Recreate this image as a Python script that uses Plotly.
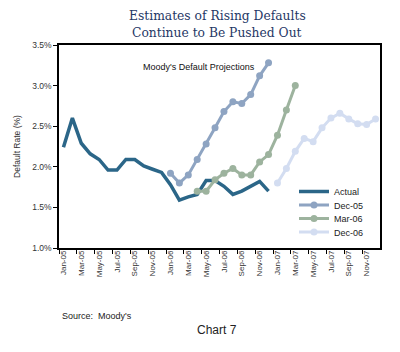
import plotly.graph_objects as go

months = ["Jan-05","Feb-05","Mar-05","Apr-05","May-05","Jun-05","Jul-05","Aug-05","Sep-05","Oct-05","Nov-05","Dec-05",
          "Jan-06","Feb-06","Mar-06","Apr-06","May-06","Jun-06","Jul-06","Aug-06","Sep-06","Oct-06","Nov-06","Dec-06",
          "Jan-07","Feb-07","Mar-07","Apr-07","May-07","Jun-07","Jul-07","Aug-07","Sep-07","Oct-07","Nov-07","Dec-07"]

actual = [2.24, 2.60, 2.29, 2.16, 2.09, 1.96, 1.96, 2.09, 2.09, 2.01, 1.97, 1.93,
          1.78, 1.59, 1.63, 1.66, 1.83, 1.83, 1.76, 1.66, 1.70, 1.76, 1.82, 1.70]
proj_dec05 = [1.92, 1.80, 1.90, 2.09, 2.28, 2.48, 2.68, 2.80, 2.78, 2.89, 3.12, 3.28]
proj_mar06 = [1.70, 1.70, 1.84, 1.92, 1.98, 1.90, 1.90, 2.06, 2.15, 2.39, 2.70, 3.00]
proj_dec06 = [1.80, 1.98, 2.19, 2.35, 2.31, 2.48, 2.60, 2.66, 2.59, 2.53, 2.52, 2.59]

start_actual = "Jan-05"
start_dec05 = "Jan-06"
start_mar06 = "Apr-06"
start_dec06 = "Jan-07"

y_ticks = [1.0, 1.5, 2.0, 2.5, 3.0, 3.5]

W, H = 400, 352
ML, MR, MT, MB = 59, 20, 45, 104
PW = W - ML - MR
PH = H - MT - MB

def px_x(x):
    return (x - ML) / PW

def px_y(y):
    return (H - MB - y) / PH

def xs(start, vals):
    i0 = months.index(start)
    return list(range(i0, i0 + len(vals)))

fig = go.Figure()
fig.add_trace(go.Scatter(x=xs(start_actual, actual), y=actual, name="Actual", mode="lines",
                         line=dict(color="#2b6688", width=3.5), legend="legend"))
fig.add_trace(go.Scatter(x=xs(start_dec05, proj_dec05), y=proj_dec05, name="Dec-05", mode="lines+markers",
                         line=dict(color="#8ea4c2", width=3), marker=dict(size=7, color="#8ea4c2"),
                         legend="legend2"))
fig.add_trace(go.Scatter(x=xs(start_mar06, proj_mar06), y=proj_mar06, name="Mar-06", mode="lines+markers",
                         line=dict(color="#9db39e", width=3), marker=dict(size=7, color="#9db39e"),
                         legend="legend3"))
fig.add_trace(go.Scatter(x=xs(start_dec06, proj_dec06), y=proj_dec06, name="Dec-06", mode="lines+markers",
                         line=dict(color="#d3ddf1", width=3), marker=dict(size=7, color="#d3ddf1"),
                         legend="legend4"))

# invisible trace to activate the label axis
fig.add_trace(go.Scatter(x=[0], y=[1.0], xaxis="x2", mode="markers", marker=dict(opacity=0),
                         showlegend=False, hoverinfo="skip"))

legend_common = dict(xanchor="left", yanchor="middle", bgcolor="rgba(0,0,0,0)",
                     font=dict(size=9, color="#222222"), itemwidth=30, borderwidth=0)
leg_x = px_x(294)

fig.update_layout(
    width=W, height=H,
    margin=dict(l=ML, r=MR, t=MT, b=MB),
    paper_bgcolor="white", plot_bgcolor="white",
    font=dict(family="Liberation Sans, Arial", size=9, color="#333333"),
    xaxis=dict(range=[-0.5, 35.5], tickmode="array",
               tickvals=[i - 0.5 for i in range(0, 36, 2)],
               ticktext=["" for _ in range(0, 36, 2)],
               ticks="outside", ticklen=4, tickcolor="black",
               showline=True, linecolor="black", linewidth=1.5, mirror=True,
               showgrid=False, zeroline=False),
    xaxis2=dict(overlaying="x", matches="x", anchor="y", side="bottom",
                tickmode="array", tickvals=list(range(0, 36, 2)),
                ticktext=[months[i] for i in range(0, 36, 2)],
                tickangle=-90, ticks="", showline=False, showgrid=False, zeroline=False,
                tickfont=dict(size=8, color="#333333")),
    yaxis=dict(range=[1.0, 3.5], tickmode="array", tickvals=y_ticks,
               ticktext=["%.1f%%" % v for v in y_ticks],
               ticks="outside", ticklen=4, tickcolor="black",
               showline=True, linecolor="black", linewidth=1.5, mirror=True,
               showgrid=False, zeroline=False,
               tickfont=dict(size=8.5, color="#333333"),
               title=dict(text="Default Rate (%)", font=dict(size=8.5, color="#333333"), standoff=10)),
    legend=dict(x=leg_x, y=px_y(191.5), **legend_common),
    legend2=dict(x=leg_x, y=px_y(205), **legend_common),
    legend3=dict(x=leg_x, y=px_y(218.5), **legend_common),
    legend4=dict(x=leg_x, y=px_y(232), **legend_common),
    showlegend=True,
)

title_font = dict(family="DejaVu Serif", size=12.3, color="#1f3866")
fig.add_annotation(text="Estimates of Rising Defaults", x=px_x(217), y=px_y(16), xref="paper", yref="paper",
                   showarrow=False, font=title_font, xanchor="center", yanchor="middle")
fig.add_annotation(text="Continue to Be Pushed Out", x=px_x(217), y=px_y(32.5), xref="paper", yref="paper",
                   showarrow=False, font=title_font, xanchor="center", yanchor="middle")
fig.add_annotation(text="Moody's Default Projections", x=px_x(199), y=px_y(67), xref="paper", yref="paper",
                   showarrow=False, font=dict(size=9, color="#111111"), xanchor="center", yanchor="middle")
fig.add_annotation(text="Source:  Moody's", x=px_x(60), y=px_y(316), xref="paper", yref="paper",
                   showarrow=False, font=dict(size=9, color="#222222"), xanchor="left", yanchor="middle")
fig.add_annotation(text="Chart 7", x=px_x(217), y=px_y(330), xref="paper", yref="paper",
                   showarrow=False, font=dict(size=12, color="#222222"), xanchor="center", yanchor="middle")

fig.write_html("out.html")
